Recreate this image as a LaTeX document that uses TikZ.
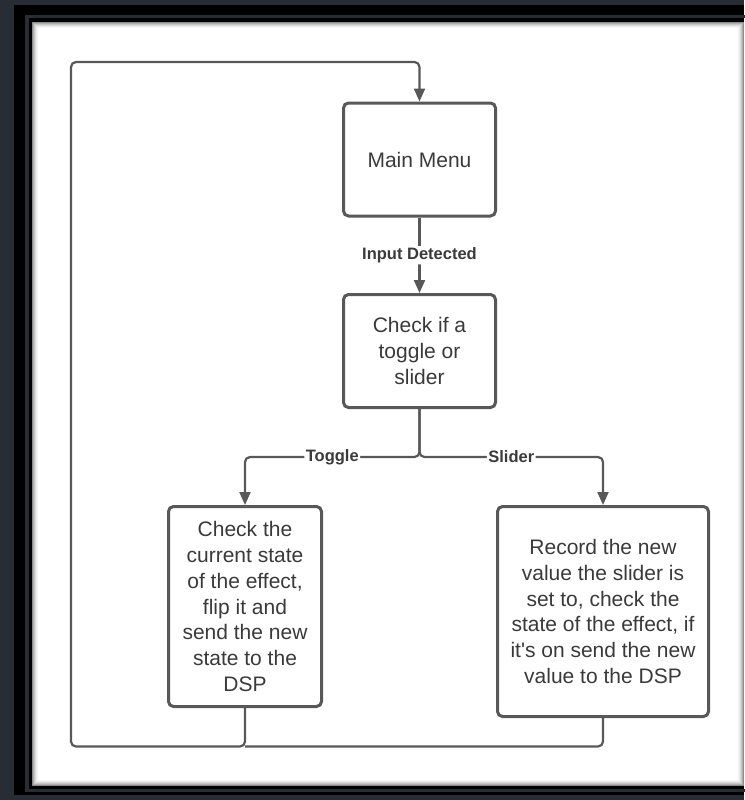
\documentclass[tikz,border=0pt]{standalone}
\usepackage{fontspec}
\setmainfont{Liberation Sans}
\usepackage{xcolor}
\usetikzlibrary{arrows.meta}

\definecolor{slate}{RGB}{40,44,53}
\definecolor{flowline}{RGB}{88,88,88}
\definecolor{flowtext}{RGB}{58,58,58}

\begin{document}
\begin{tikzpicture}[x = 1pt, y = -1pt,
    box/.style = {draw = flowline, line width = 3pt, rounded corners = 5pt,
        fill = white, text = flowtext, align = center, inner sep = 0pt,
        font = \fontsize{21}{25.8}\selectfont},
    link/.style = {draw = flowline, line width = 2.2pt, rounded corners = 5pt},
    tip/.style = {-{Triangle[length = 13pt, width = 11pt]}},
    tag/.style = {fill = white, text = flowtext, inner sep = 1.5pt,
        font = \fontsize{16.5}{18}\selectfont\bfseries}]
\useasboundingbox (0, 0) rectangle (744, 800);

% frame and page
\fill [slate] (0, 0) rectangle (744, 800);
\fill [black] (14, 5) rectangle (744, 795);
\draw [slate, line width = 3.5pt] (27, 16.5) rectangle (760, 790.5);
\fill [white] (32, 22) rectangle (744, 786);
\foreach \d/\o in {0/0.45, 1/0.32, 2/0.22, 3/0.14, 4/0.08, 5/0.04}
    \draw [black, opacity = \o, line width = 1pt]
        (32.5 + \d, 22.5 + \d) rectangle (743.5 - \d, 785.5 - \d);

% boxes
\node [box, minimum width = 152pt, minimum height = 113pt] (menu)
    at (419.5, 159.5) {Main Menu};
\node [box, minimum width = 152pt, minimum height = 113pt] (check)
    at (419.5, 351) {Check if a\\toggle or\\slider};
\node [box, minimum width = 153pt, minimum height = 200pt] (toggle)
    at (245, 606.5) {Check the\\current state\\of the effect,\\flip it and\\send the new\\state to the\\DSP};
\node [box, minimum width = 211pt, minimum height = 210pt] (slider)
    at (603, 611.5) {Record the new\\value the slider is\\set to, check the\\state of the effect, if\\it\textquotesingle s on send the new\\value to the DSP};

% connectors
\draw [link, tip] (menu) -- node [tag] {Input Detected} (check);
\draw [link, tip] (check.south) -- ++(0, 48)
    -| node [tag, pos = 0.25] {Toggle} (toggle.north);
\draw [link, tip] (check.south) -- ++(0, 48)
    -| node [tag, pos = 0.25] {Slider} (slider.north);

% back to the menu
\coordinate (bottomleft) at (71, 746.5);
\coordinate (topleft) at (71, 62);
\draw [link, tip] (toggle.south) |- (bottomleft) -- (topleft) -| (menu.north);
\draw [link] (slider.south) |- (toggle.south |- bottomleft);
\end{tikzpicture}
\end{document}
